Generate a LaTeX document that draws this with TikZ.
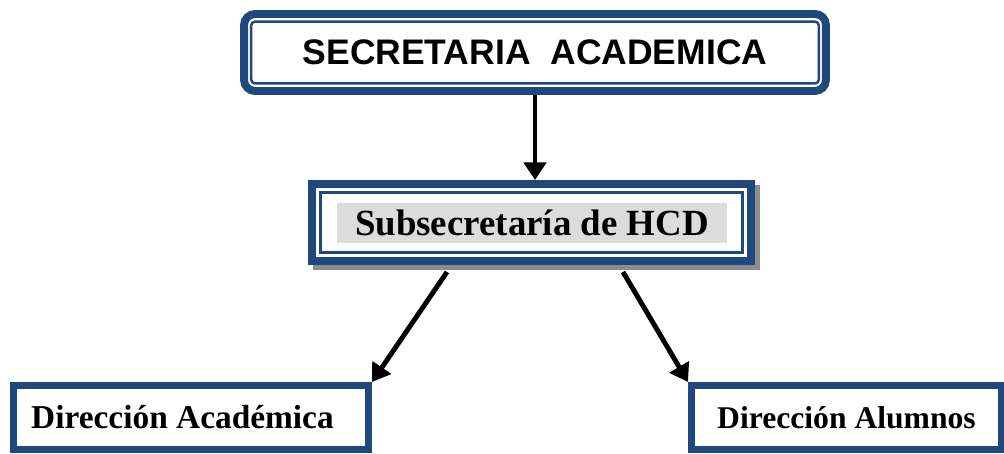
\documentclass[tikz,border=0pt]{standalone}
\usepackage{fontspec}
\setmainfont{Liberation Serif}
\newfontfamily\arialfont{Liberation Sans}
\usetikzlibrary{arrows.meta}
\definecolor{boxblue}{HTML}{1F497D}
\definecolor{shadegray}{HTML}{8C8C8C}
\definecolor{labelgray}{HTML}{DCDCDC}
\tikzset{
  frame/.style={draw=boxblue, fill=white, line width=4.5pt, rectangle},
  inframe/.style={draw=boxblue, line width=1.4pt},
  link/.style={-{Triangle[length=10pt,width=12.5pt]}, line width=2.8pt},
}
\begin{document}
\begin{tikzpicture}[x=0.02cm,y=-0.02cm]
        \useasboundingbox (0,0) rectangle (1004,453);
        % top box
        \node[frame, rounded corners=0.22cm, minimum width=11.64cm, minimum height=1.54cm,
              font=\arialfont\bfseries\fontsize{20.2}{24}\selectfont] (sec) at (535,52.5) {SECRETARIA\ \ ACADEMICA};
        \draw[inframe, rounded corners=0.08cm] ([shift={(11,11.5)}]sec.north west) rectangle ([shift={(-11,-11.5)}]sec.south east);
        % middle box
        \node[fill=shadegray, inner sep=0, minimum width=8.94cm, minimum height=1.7cm] (subshadow) at (536.5,227.5) {};
        \node[frame, minimum width=8.78cm, minimum height=1.54cm] (sub) at (531.5,222.5) {};
        \draw[inframe, line width=1.7pt] ([shift={(12.5,12.5)}]sub.north west) rectangle ([shift={(-12.5,-12.5)}]sub.south east);
        \node[fill=labelgray, inner sep=0, minimum width=7.8cm, minimum height=0.8cm,
              font=\bfseries\fontsize{21}{25}\selectfont] (subtxt) at (532,223) {Subsecretaría de HCD};
        % bottom boxes
        \node[frame, line width=4pt, minimum width=7.1cm, minimum height=1.28cm,
              font=\bfseries\fontsize{19}{23}\selectfont] (dira) at (191,417.5) {Dirección Académica\hspace*{0.34cm}};
        \node[frame, line width=4pt, minimum width=6.2cm, minimum height=1.28cm,
              font=\bfseries\fontsize{18}{22}\selectfont] (dirb) at (846.5,417.5) {Dirección Alumnos};
        % arrows
        \draw[link] (sec.south) -- (sec.south |- sub.north);
        \draw[link] ([shift={(-84.5,7)}]sub.south) -- (dira.north east);
        \draw[link] ([shift={(91.5,7)}]sub.south) -- (dirb.north west);
\end{tikzpicture}
\end{document}
